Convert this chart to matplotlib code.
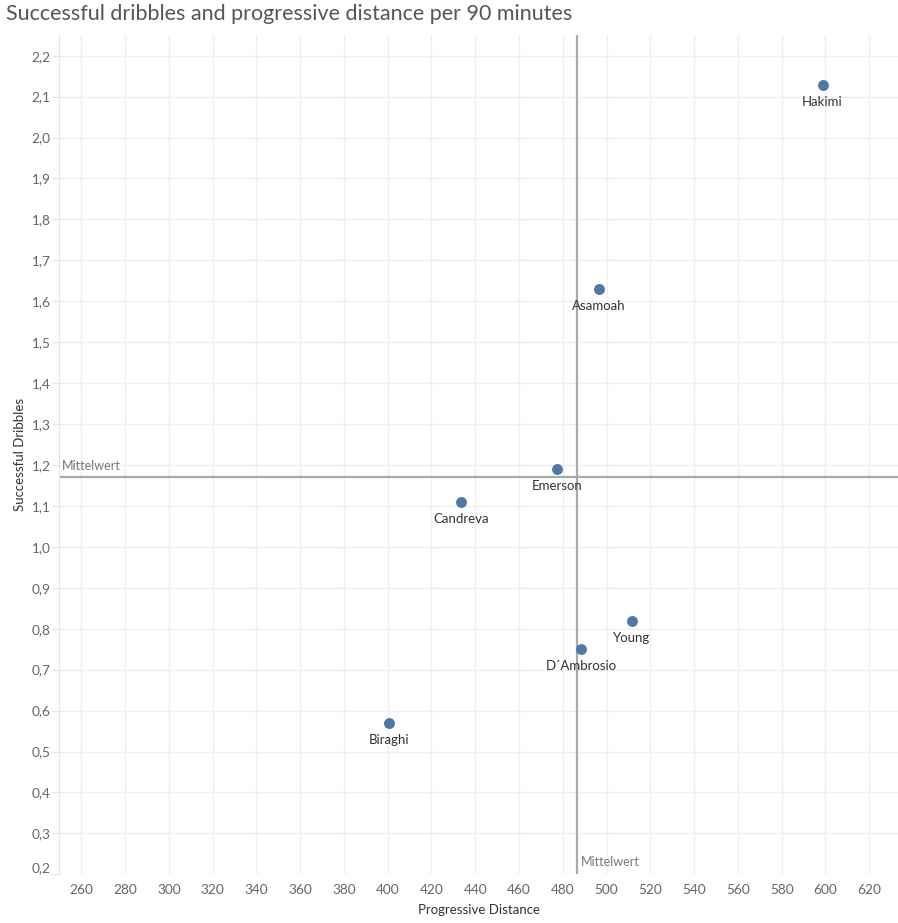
import numpy as np
import matplotlib.pyplot as plt

players = ["Hakimi", "Asamoah", "Emerson", "Candreva", "Young", "D\u00b4Ambrosio", "Biraghi"]
prog_distance = [598.7, 496.4, 477.6, 433.7, 511.5, 488.5, 400.5]
dribbles = [2.128, 1.630, 1.190, 1.110, 0.820, 0.750, 0.570]

x_ticks = list(range(260, 621, 20))
y_ticks = [round(0.2 + 0.1 * i, 1) for i in range(21)]

plt.rcParams['font.family'] = ['Lato', 'DejaVu Sans']

fig = plt.figure(figsize=(8.98, 9.23), dpi=100)
ax = fig.add_axes([59 / 898, (923 - 874.3) / 923, 839 / 898, 839.3 / 923])

ax.set_xlim(249.8, 633.2)
ax.set_ylim(0.2, 2.2506)

ax.set_xticks(x_ticks)
ax.set_yticks(y_ticks)
ax.set_xticklabels([str(t) for t in x_ticks])
ax.set_yticklabels([f"{t:.1f}".replace('.', ',') for t in y_ticks])
ax.tick_params(axis='both', colors='#e6e6e6', labelcolor='#666666', labelsize=9.8, length=5, width=1)
ax.tick_params(axis='x', length=0, pad=7)
ax.tick_params(axis='y', pad=1)
# the bottom label sits a bit higher in the original
ax.get_yticklabels()[0].set_va('bottom')

ax.grid(True, color='#efefef', linewidth=1)
ax.set_axisbelow(True)
for s in ['top', 'right', 'bottom']:
    ax.spines[s].set_visible(False)
ax.spines['left'].set_color('#e6e6e6')

mean_x = np.mean(prog_distance)
mean_y = np.mean(dribbles)
ax.axvline(mean_x, color='#a9a9a9', linewidth=1.6, zorder=2)
ax.axhline(mean_y, color='#a9a9a9', linewidth=1.6, zorder=2)
ax.text(251, mean_y + 0.012, "Mittelwert", color='#777777', fontsize=9, va='bottom', ha='left')
ax.text(mean_x + 1.8, 0.215, "Mittelwert", color='#777777', fontsize=9, va='bottom', ha='left')

ax.scatter(prog_distance, dribbles, s=62, color='#4e79a7', zorder=3, linewidths=0)
for name, x, y in zip(players, prog_distance, dribbles):
    ax.annotate(name, (x, y), xytext=(0, -8), textcoords='offset points',
                ha='center', va='top', fontsize=9.5, color='#333333')

ax.set_xlabel("Progressive Distance", fontsize=9.5, color='#333333', labelpad=6)
ax.set_ylabel("Successful Dribbles", fontsize=9.5, color='#333333', labelpad=4)

fig.text(6 / 898, 1 - 14 / 923, "Successful dribbles and progressive distance per 90 minutes",
         fontsize=15.5, color='#555555', va='center', ha='left')

fig.savefig('out.png', dpi=100)
